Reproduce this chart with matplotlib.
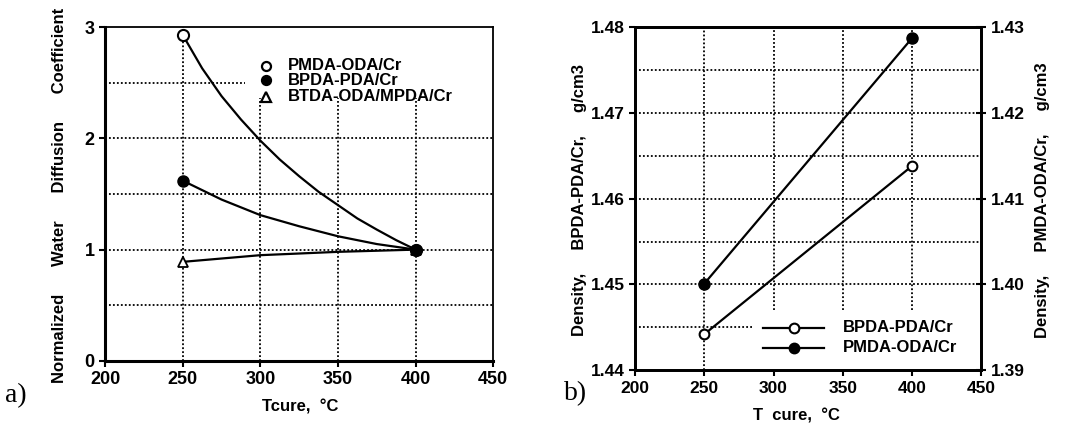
import matplotlib
matplotlib.use("Agg")
import matplotlib.pyplot as plt

plt.rcParams['font.family'] = ['Liberation Sans', 'DejaVu Sans']
plt.rcParams['font.weight'] = 'bold'

# panel a: normalized water diffusion coefficient vs cure temperature
t_marks = [250, 400]
pmda_marks = [2.93, 1.0]
bpda_marks = [1.62, 1.0]
btda_marks = [0.89, 1.0]

# fitted curves
pmda_curve_t = [250, 262.5, 275, 287.5, 300, 312.5, 325, 337.5, 350, 362.5, 375, 387.5, 400]
pmda_curve_v = [2.93, 2.63, 2.38, 2.17, 1.98, 1.81, 1.66, 1.52, 1.40, 1.28, 1.18, 1.085, 1.0]
bpda_curve_t = [250, 275, 300, 325, 350, 375, 400]
bpda_curve_v = [1.62, 1.45, 1.31, 1.21, 1.12, 1.05, 1.0]
btda_curve_t = [250, 300, 350, 400]
btda_curve_v = [0.89, 0.95, 0.98, 1.0]

# panel b: density vs cure temperature
tb = [250, 400]
bpda_density = [1.4442, 1.4638]   # left axis
pmda_density = [1.4001, 1.4287]   # right axis

fig = plt.figure(figsize=(10.84, 4.25), dpi=100)
dot = (0, (1, 1.2))

# ---------------- panel a
ax = fig.add_axes([0.097, 0.151, 0.358, 0.785])
ax.set_xlim(200, 450)
ax.set_ylim(0, 3)
for y in [0.5, 1.0, 1.5, 2.0]:
    ax.hlines(y, 200, 450, colors='k', linestyles=dot, lw=1.3)
ax.hlines(2.5, 200, 290, colors='k', linestyles=dot, lw=1.3)
ax.vlines(250, 0, 3, colors='k', linestyles=dot, lw=1.3)
for x in [300, 350, 400]:
    ax.vlines(x, 0, 2.36, colors='k', linestyles=dot, lw=1.3)

ax.plot(pmda_curve_t, pmda_curve_v, color='k', lw=1.6)
ax.plot(bpda_curve_t, bpda_curve_v, color='k', lw=1.6)
ax.plot(btda_curve_t, btda_curve_v, color='k', lw=1.6)
ax.plot(t_marks, btda_marks, ls='none', marker='^', ms=7, mfc='white', mec='k', mew=1.3)
ax.plot(t_marks, pmda_marks, ls='none', marker='o', ms=8, mfc='white', mec='k', mew=1.5)
ax.plot(t_marks, bpda_marks, ls='none', marker='o', ms=8, mfc='k', mec='k')

ax.set_xticks([200, 250, 300, 350, 400, 450])
ax.set_yticks([0, 1, 2, 3])
ax.tick_params(direction='out', length=4, width=1.5, labelsize=13)
for lab in ax.get_xticklabels() + ax.get_yticklabels():
    lab.set_fontweight('bold')
for s in ['left', 'bottom']:
    ax.spines[s].set_linewidth(2.2)
for s in ['top', 'right']:
    ax.spines[s].set_linewidth(1.3)

# legend of panel a (markers only)
leg_names_a = ['PMDA-ODA/Cr', 'BPDA-PDA/Cr', 'BTDA-ODA/MPDA/Cr']
leg_styles_a = [dict(marker='o', mfc='white'), dict(marker='o', mfc='k'), dict(marker='^', mfc='white')]
leg_y_a = [0.884, 0.841, 0.792]
for name, st, yy in zip(leg_names_a, leg_styles_a, leg_y_a):
    ax.plot([0.415], [yy], transform=ax.transAxes, ls='none', mec='k', mew=1.6, ms=6.5, **st)
    ax.text(0.47, yy, name, transform=ax.transAxes, va='center', ha='left', fontsize=12, fontweight='bold')

fig.text(0.055, 0.54, 'Normalized      Water      Diffusion      Coefficient', rotation=90,
         ha='center', va='center', fontsize=12, fontweight='bold')
fig.text(0.277, 0.042, 'Tcure,  °C', ha='center', va='center', fontsize=12, fontweight='bold')
fig.text(0.005, 0.07, 'a)', ha='left', va='center', fontsize=20, fontweight='normal',
         family=['Liberation Serif', 'DejaVu Serif'])

# ---------------- panel b
bx = fig.add_axes([0.586, 0.129, 0.319, 0.807])
bx.set_xlim(200, 450)
bx.set_ylim(1.44, 1.48)
for y in [1.45, 1.455, 1.46, 1.465, 1.47, 1.475]:
    bx.hlines(y, 200, 450, colors='k', linestyles=dot, lw=1.3)
bx.hlines(1.445, 200, 286, colors='k', linestyles=dot, lw=1.3)
bx.vlines(250, 1.44, 1.48, colors='k', linestyles=dot, lw=1.3)
for x in [300, 350, 400]:
    bx.vlines(x, 1.447, 1.48, colors='k', linestyles=dot, lw=1.3)

bx.plot(tb, bpda_density, color='k', lw=1.6, marker='o', ms=7, mfc='white', mec='k', mew=1.5)
bx.set_xticks([200, 250, 300, 350, 400, 450])
bx.set_yticks([1.44, 1.45, 1.46, 1.47, 1.48])
bx.set_yticklabels(['1.44', '1.45', '1.46', '1.47', '1.48'])
bx.tick_params(direction='out', length=4, width=1.5, labelsize=12.5)
for lab in bx.get_xticklabels() + bx.get_yticklabels():
    lab.set_fontweight('bold')
for s in bx.spines.values():
    s.set_linewidth(2.0)

rx = bx.twinx()
rx.set_ylim(1.39, 1.43)
rx.plot(tb, pmda_density, color='k', lw=1.6, marker='o', ms=8, mfc='k', mec='k')
rx.set_yticks([1.39, 1.40, 1.41, 1.42, 1.43])
rx.set_yticklabels(['1.39', '1.40', '1.41', '1.42', '1.43'])
rx.tick_params(direction='inout', length=7, width=1.5, labelsize=12.5)
for lab in rx.get_yticklabels():
    lab.set_fontweight('bold')
for s in rx.spines.values():
    s.set_linewidth(2.0)

# legend of panel b
leg_names_b = ['BPDA-PDA/Cr', 'PMDA-ODA/Cr']
leg_fill_b = ['white', 'k']
leg_y_b = [0.124, 0.066]
for name, fc, yy in zip(leg_names_b, leg_fill_b, leg_y_b):
    bx.plot([0.37, 0.545], [yy, yy], transform=bx.transAxes, color='k', lw=1.6)
    bx.plot([0.458], [yy], transform=bx.transAxes, ls='none', marker='o', ms=7, mfc=fc, mec='k', mew=1.5)
    bx.text(0.6, yy, name, transform=bx.transAxes, va='center', ha='left', fontsize=12, fontweight='bold')

fig.text(0.535, 0.53, 'Density,     BPDA-PDA/Cr,     g/cm3', rotation=90,
         ha='center', va='center', fontsize=12, fontweight='bold')
fig.text(0.962, 0.53, 'Density,     PMDA-ODA/Cr,     g/cm3', rotation=90,
         ha='center', va='center', fontsize=12, fontweight='bold')
fig.text(0.735, 0.022, 'T  cure,  °C', ha='center', va='center', fontsize=12, fontweight='bold')
fig.text(0.52, 0.075, 'b)', ha='left', va='center', fontsize=20, fontweight='normal',
         family=['Liberation Serif', 'DejaVu Serif'])

fig.savefig('out.png', dpi=100)
